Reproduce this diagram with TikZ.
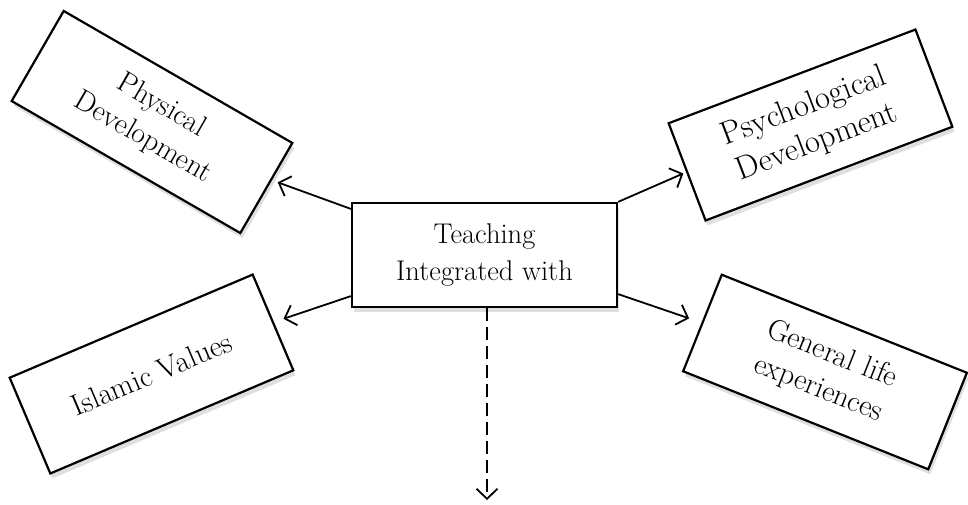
\documentclass[tikz,border=0pt]{standalone}
\usetikzlibrary{arrows.meta,shadows,calc}
\begin{document}
\begin{tikzpicture}[x=1pt,y=1pt]
\tikzset{
  box/.style={draw, line width=2.2pt, fill=white, minimum width=264pt, minimum height=104pt,
    align=center, inner sep=2pt,
    drop shadow={shadow xshift=2pt, shadow yshift=-5pt, opacity=0.25}},
  conn/.style={line width=1.8pt, -{Straight Barb[length=10pt,width=21pt,line width=1.8pt]}},
}
\useasboundingbox (0,0) rectangle (968,-504);
\node[box, minimum width=265pt, font=\fontsize{28.5}{37}\selectfont] (c) at (484.5,-255) {Teaching\\Integrated with};
\node[box, font=\fontsize{29.5}{37}\selectfont, rotate=-30] (phys) at (152,-122) {Physical\\Development};
\node[box, font=\fontsize{32.5}{38}\selectfont, rotate=20.8] (psych) at (810.5,-125) {Psychological\\Development};
\node[box, font=\fontsize{30}{37}\selectfont, rotate=23] (isl) at (151.5,-374) {Islamic Values};
\node[box, font=\fontsize{30}{37}\selectfont, rotate=-21.8] (gen) at (825,-372) {General life\\experiences};
\coordinate (down) at (487,-500);
\draw[conn, shorten >=6pt] ([yshift=-7pt]c.north west) -- ($(phys.east)!0.18!(phys.north east)$);
\draw[conn, shorten >=3pt] (c.north east) -- (psych.west);
\draw[conn, shorten >=10pt] ([yshift=12pt]c.south west) -- (isl.east);
\draw[conn, shorten >=13pt] ([yshift=14pt]c.south east) -- (gen.west);
\draw[conn, dash pattern=on 13pt off 6pt] (c.south -| down) -- (down);
\end{tikzpicture}
\end{document}
